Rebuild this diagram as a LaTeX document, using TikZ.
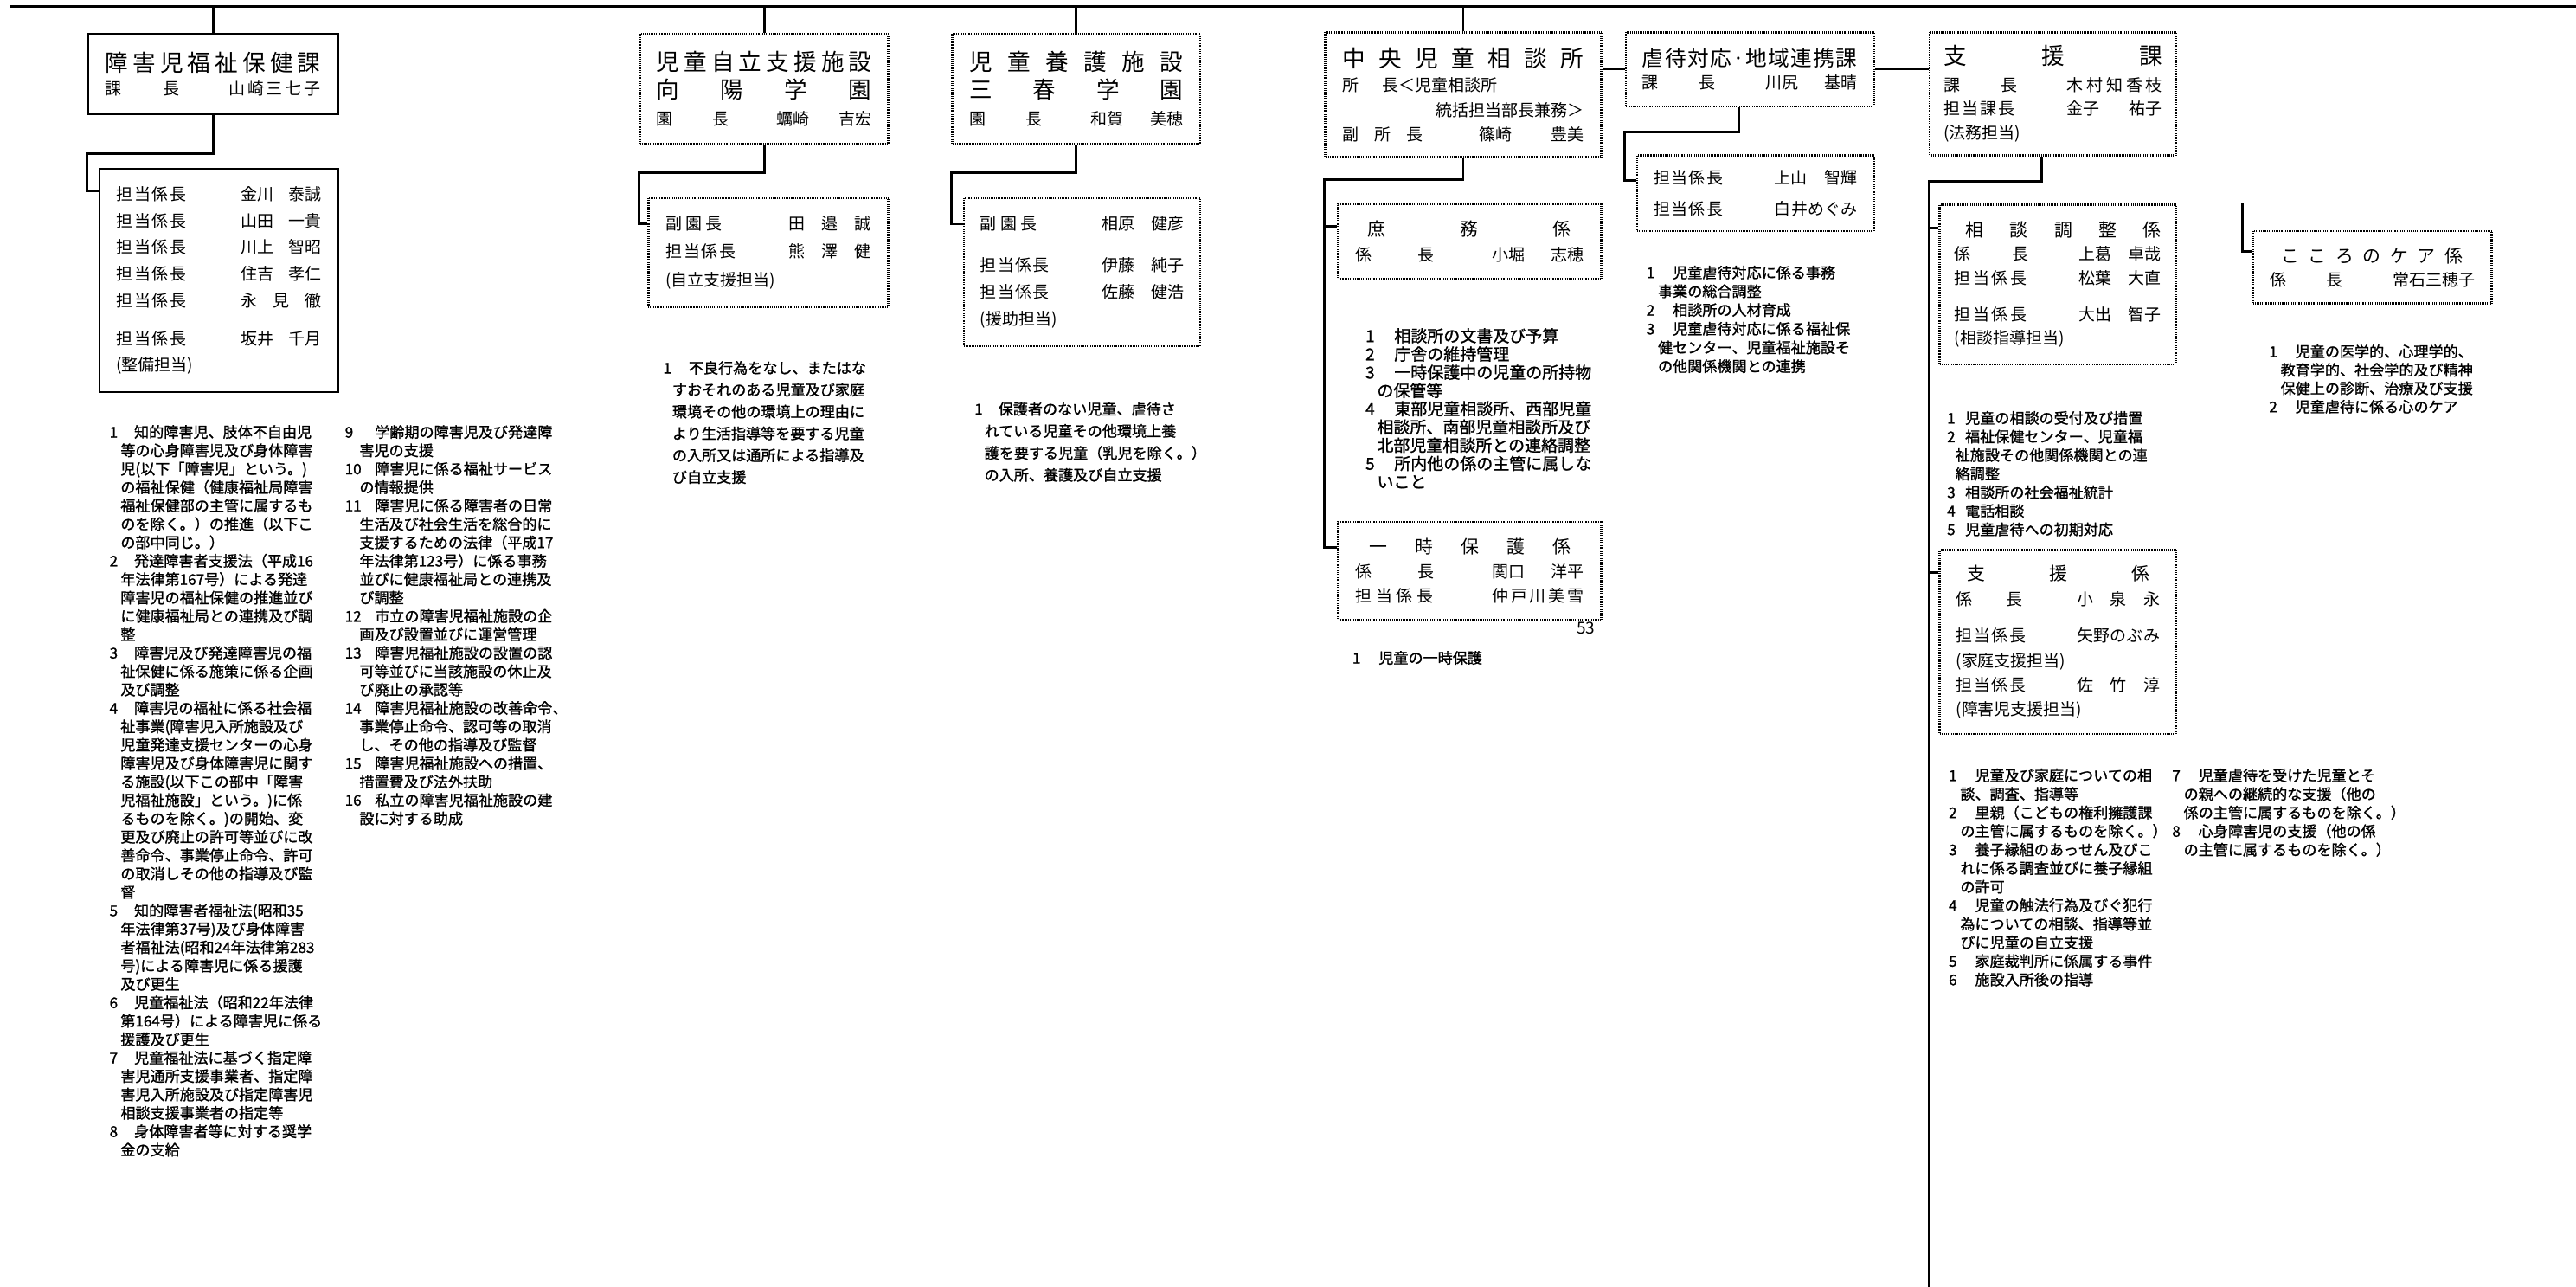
\documentclass[tikz,border=0pt]{standalone}
\usepackage{fontspec}
\setmainfont{Noto Sans CJK JP}
\newfontfamily\dsc{Noto Sans CJK JP}[FakeBold=1.2]

\newlength\nmw
\newlength\ctw
\newcommand{\nm}[1]{\makebox[\nmw][l]{#1}}
\newcommand{\ct}{\hspace*{\ctw}}
\newcommand{\spr}[2]{\makebox[#1][s]{\spaceskip=0pt plus 1fil\relax #2}}
\newcommand{\rw}[4]{\spr{#1}{#2}\hfill\spr{#3}{#4}}
\newcommand{\ttl}{\fontsize{14}{16}\selectfont}
\newcommand{\sttl}{\fontsize{11}{14}\selectfont}

\tikzset{
  bus/.style={line width=1.7pt},
  con/.style={line width=1.5pt},
  kbox/.style={draw, line width=1.3pt, anchor=north west, align=left, inner ysep=0pt},
  dbox/.style={kbox, dash pattern=on .5pt off .5pt},
  lst/.style 2 args={anchor=north west, inner sep=0pt, align=left,
    font=\dsc\fontsize{9}{11.2}\selectfont,
    execute at begin node={\global\nmw=#1\relax\global\ctw=#2\relax}},
}

\begin{document}
\begin{tikzpicture}[x=1pt,y=-1pt]
\useasboundingbox (0,0) rectangle (1568,783);

% top line
\coordinate (busL) at (6,4);
\coordinate (busR) at (1568,4);
\draw[bus] (busL) -- (busR);

% 障害児福祉保健課
\node[kbox, minimum width=152, minimum height=49, inner xsep=10.5, text width=131,
  font=\fontsize{10}{14}\selectfont] (shka) at (53,20) {%
  {\ttl\spr{\linewidth}{障 害 児 福 祉 保 健 課}}\\
  \rw{45pt}{課 長}{56pt}{山 崎 三 七 子}};
\node[kbox, minimum width=145, minimum height=136, inner xsep=10, text width=125,
  font=\fontsize{10}{16.2}\selectfont] (shka2) at (60,102) {%
  \rw{43pt}{担 当 係 長}{49pt}{金川 泰誠}\\
  \rw{43pt}{担 当 係 長}{49pt}{山田 一貴}\\
  \rw{43pt}{担 当 係 長}{49pt}{川上 智昭}\\
  \rw{43pt}{担 当 係 長}{49pt}{住吉 孝仁}\\
  \rw{43pt}{担 当 係 長}{49pt}{永 見 徹}\\[6.8pt]
  \rw{43pt}{担 当 係 長}{49pt}{坂井 千月}\\
  (整備担当)};
\coordinate (ja) at (53,116);
\draw[con] (shka.north) -- (shka.north |- busL);
\draw[con] (shka.south) -- ++(0,23) -| (ja) -- (ja -| shka2.west);

\node[lst={15pt}{6.7pt}] (txa) at (66.5,258.5) {%
  \nm{1}知的障害児、肢体不自由児\\
  \ct 等の心身障害児及び身体障害\\
  \ct 児(以下「障害児」という。)\\
  \ct の福祉保健（健康福祉局障害\\
  \ct 福祉保健部の主管に属するも\\
  \ct のを除く。）の推進（以下こ\\
  \ct の部中同じ。）\\
  \nm{2}発達障害者支援法（平成16\\
  \ct 年法律第167号）による発達\\
  \ct 障害児の福祉保健の推進並び\\
  \ct に健康福祉局との連携及び調\\
  \ct 整\\
  \nm{3}障害児及び発達障害児の福\\
  \ct 祉保健に係る施策に係る企画\\
  \ct 及び調整\\
  \nm{4}障害児の福祉に係る社会福\\
  \ct 祉事業(障害児入所施設及び\\
  \ct 児童発達支援センターの心身\\
  \ct 障害児及び身体障害児に関す\\
  \ct る施設(以下この部中「障害\\
  \ct 児福祉施設」という。)に係\\
  \ct るものを除く。)の開始、変\\
  \ct 更及び廃止の許可等並びに改\\
  \ct 善命令、事業停止命令、許可\\
  \ct の取消しその他の指導及び監\\
  \ct 督\\
  \nm{5}知的障害者福祉法(昭和35\\
  \ct 年法律第37号)及び身体障害\\
  \ct 者福祉法(昭和24年法律第283\\
  \ct 号)による障害児に係る援護\\
  \ct 及び更生\\
  \nm{6}児童福祉法（昭和22年法律\\
  \ct 第164号）による障害児に係る\\
  \ct 援護及び更生\\
  \nm{7}児童福祉法に基づく指定障\\
  \ct 害児通所支援事業者、指定障\\
  \ct 害児入所施設及び指定障害児\\
  \ct 相談支援事業者の指定等\\
  \nm{8}身体障害者等に対する奨学\\
  \ct 金の支給};
\node[lst={18.2pt}{8.8pt}] (txb) at (209.8,258.5) {%
  \nm{9}学齢期の障害児及び発達障\\
  \ct 害児の支援\\
  \nm{10}障害児に係る福祉サービス\\
  \ct の情報提供\\
  \nm{11}障害児に係る障害者の日常\\
  \ct 生活及び社会生活を総合的に\\
  \ct 支援するための法律（平成17\\
  \ct 年法律第123号）に係る事務\\
  \ct 並びに健康福祉局との連携及\\
  \ct び調整\\
  \nm{12}市立の障害児福祉施設の企\\
  \ct 画及び設置並びに運営管理\\
  \nm{13}障害児福祉施設の設置の認\\
  \ct 可等並びに当該施設の休止及\\
  \ct び廃止の承認等\\
  \nm{14}障害児福祉施設の改善命令、\\
  \ct 事業停止命令、認可等の取消\\
  \ct し、その他の指導及び監督\\
  \nm{15}障害児福祉施設への措置、\\
  \ct 措置費及び法外扶助\\
  \nm{16}私立の障害児福祉施設の建\\
  \ct 設に対する助成};

% 児童自立支援施設
\node[dbox, minimum width=151, minimum height=67, inner xsep=10, text width=131,
  font=\fontsize{10}{16.5}\selectfont] (kyoyo) at (389,20) {%
  {\ttl\spr{\linewidth}{児 童 自 立 支 援 施 設}}\\
  {\ttl\spr{\linewidth}{向 陽 学 園}}\\
  \rw{44pt}{園 長}{58pt}{蠣崎 吉宏}};
\node[dbox, minimum width=146, minimum height=66, inner xsep=10.5, text width=125,
  font=\fontsize{10}{17}\selectfont] (kyoyo2) at (394,120) {%
  \rw{34.5pt}{副 園 長}{50pt}{田 邉 誠}\\
  \rw{43pt}{担 当 係 長}{50pt}{熊 澤 健}\\
  (自立支援担当)};
\coordinate (jb) at (389,136);
\draw[con] (kyoyo.north) -- (kyoyo.north |- busL);
\draw[con] (kyoyo.south) -- ++(0,17) -| (jb) -- (jb -| kyoyo2.west);
\node[lst={15.5pt}{5.5pt}, font=\dsc\fontsize{9}{13.3}\selectfont] (txkyoyo) at (403.5,219.5) {%
  \nm{1}不良行為をなし、またはな\\
  \ct すおそれのある児童及び家庭\\
  \ct 環境その他の環境上の理由に\\
  \ct より生活指導等を要する児童\\
  \ct の入所又は通所による指導及\\
  \ct び自立支援};

% 児童養護施設
\node[dbox, minimum width=151, minimum height=67, inner xsep=10.5, text width=130,
  font=\fontsize{10}{16.5}\selectfont] (miharu) at (579,20) {%
  {\ttl\spr{\linewidth}{児 童 養 護 施 設}}\\
  {\ttl\spr{\linewidth}{三 春 学 園}}\\
  \rw{44pt}{園 長}{56pt}{和賀 美穂}};
\node[dbox, minimum width=144, minimum height=90, inner xsep=10, text width=124,
  font=\fontsize{10}{16.5}\selectfont] (miharu2) at (586,120) {%
  \rw{34.5pt}{副 園 長}{50pt}{相原 健彦}\\[8.8pt]
  \rw{42pt}{担 当 係 長}{50pt}{伊藤 純子}\\
  \rw{42pt}{担 当 係 長}{50pt}{佐藤 健浩}\\
  (援助担当)};
\coordinate (jc) at (579,136.4);
\draw[con] (miharu.north) -- (miharu.north |- busL);
\draw[con] (miharu.south) -- ++(0,17) -| (jc) -- (jc -| miharu2.west);
\node[lst={14.5pt}{6pt}, font=\dsc\fontsize{9}{13.4}\selectfont] (txmiharu) at (593,244.5) {%
  \nm{1}保護者のない児童、虐待さ\\
  \ct れている児童その他環境上養\\
  \ct 護を要する児童（乳児を除く。）\\
  \ct の入所、養護及び自立支援};

% 中央児童相談所
\node[dbox, minimum width=168, minimum height=76, inner xsep=10.5, text width=147,
  font=\fontsize{10}{15}\selectfont] (chuo) at (806,19) {%
  {\ttl\spr{\linewidth}{中 央 児 童 相 談 所}}\\
  所\hspace{14.5pt}長＜児童相談所\\
  \hspace*{\fill}統括担当部長兼務＞\\
  \rw{49pt}{副 所 長}{63.7pt}{篠崎 豊美}};
\node[dbox, minimum width=160, minimum height=45.5, inner xsep=10.6, text width=138.8,
  font=\fontsize{10}{15}\selectfont] (shomu) at (814,123.5) {%
  \hspace*{7pt}{\sttl\spr{124pt}{庶 務 係}}\\
  \rw{47.5pt}{係 長}{55.7pt}{小堀 志穂}};
\node[dbox, minimum width=160, minimum height=59.5, inner xsep=10.6, text width=138.8,
  font=\fontsize{10}{15}\selectfont] (ichiji) at (814,317) {%
  \hspace*{8pt}{\sttl\spr{123pt}{一 時 保 護 係}}\\
  \rw{47.5pt}{係 長}{55.7pt}{関口 洋平}\\
  \rw{47pt}{担 当 係 長}{55.7pt}{仲 戸 川 美 雪}};
\coordinate (jd1) at (806,137.7);
\coordinate (jd2) at (806,333);
\draw[con] (chuo.north) -- (chuo.north |- busL);
\draw[con] (chuo.south) -- ++(0,13) -| (jd2) -- (jd2 -| ichiji.west);
\draw[con] (jd1) -- (jd1 -| shomu.west);
\node[lst={17.5pt}{7pt}, font=\dsc\fontsize{10}{11.1}\selectfont] (txshomu) at (831,199.5) {%
  \nm{1}相談所の文書及び予算\\
  \nm{2}庁舎の維持管理\\
  \nm{3}一時保護中の児童の所持物\\
  \ct の保管等\\
  \nm{4}東部児童相談所、西部児童\\
  \ct 相談所、南部児童相談所及び\\
  \ct 北部児童相談所との連絡調整\\
  \nm{5}所内他の係の主管に属しな\\
  \ct いこと};
\node[anchor=east, inner sep=0pt, font=\fontsize{10}{12}\selectfont] (pg) at (971,382) {53};
\node[lst={16pt}{7pt}, font=\dsc\fontsize{9}{11.2}\selectfont] (txichiji) at (823,396) {%
  \nm{1}児童の一時保護};

% 虐待対応・地域連携課
\node[dbox, minimum width=151, minimum height=45, inner xsep=10, text width=131,
  font=\fontsize{10}{13.5}\selectfont] (gyaku) at (989,19) {%
  {\fontsize{13}{15}\selectfont\spr{\linewidth}{虐 待 対 応 · 地 域 連 携 課}}\\
  \rw{44.5pt}{課 長}{56pt}{川尻 基晴}};
\node[dbox, minimum width=144, minimum height=46, inner xsep=10, text width=124,
  font=\fontsize{10}{18.5}\selectfont] (gyaku2) at (996,94) {%
  \rw{42pt}{担 当 係 長}{50.5pt}{上山 智輝}\\
  \rw{42pt}{担 当 係 長}{50.5pt}{白 井 め ぐ み}};
\coordinate (je) at (989,110);
\draw[con] (gyaku.west) -- (gyaku.west -| chuo.east);
\draw[con] ([xshift=-6.5pt]gyaku.south) -- ++(0,15) -| (je) -- (je -| gyaku2.west);
\node[lst={16pt}{7pt}, font=\dsc\fontsize{9}{11.4}\selectfont] (txgyaku) at (1002,161.5) {%
  \nm{1}児童虐待対応に係る事務\\
  \ct 事業の総合調整\\
  \nm{2}相談所の人材育成\\
  \nm{3}児童虐待対応に係る福祉保\\
  \ct 健センター、児童福祉施設そ\\
  \ct の他関係機関との連携};

% 支援課
\node[dbox, minimum width=150, minimum height=75, inner xsep=8.5, text width=133,
  font=\fontsize{10}{14.7}\selectfont] (shien) at (1174,19) {%
  {\ttl\spr{\linewidth}{支 援 課}}\\[1.3pt]
  \rw{45pt}{課 長}{58pt}{木 村 知 香 枝}\\
  \rw{43.4pt}{担 当 課 長}{58pt}{金子 祐子}\\
  (法務担当)};
\draw[con] (gyaku.east) -- (gyaku.east -| shien.west);
\node[dbox, minimum width=144, minimum height=97, inner xsep=9, text width=126,
  font=\fontsize{10}{14.3}\selectfont] (sodan) at (1180,124) {%
  \hspace*{6.8pt}{\sttl\spr{119pt}{相 談 調 整 係}}\\
  \rw{45pt}{係 長}{50pt}{上葛 卓哉}\\
  \rw{44pt}{担 当 係 長}{50pt}{松葉 大直}\\[8pt]
  \rw{44pt}{担 当 係 長}{50pt}{大出 智子}\\
  (相談指導担当)};
\node[dbox, minimum width=144, minimum height=112, inner xsep=10, text width=124,
  font=\fontsize{10}{14.8}\selectfont] (shienk) at (1180,334) {%
  \hspace*{7pt}{\sttl\spr{111pt}{支 援 係}}\\
  \rw{40.5pt}{係 長}{50.4pt}{小 泉 永}\\[7.8pt]
  \rw{42.7pt}{担 当 係 長}{50.4pt}{矢 野 の ぶ み}\\
  (家庭支援担当)\\
  \rw{42.7pt}{担 当 係 長}{50.4pt}{佐 竹 淳}\\
  (障害児支援担当)};
\coordinate (jf1) at (1174,138.7);
\coordinate (jf2) at (1174,348.5);
\coordinate (fend) at (1174,783);
\draw[con] ([xshift=-7pt]shien.south) -- ++(0,15) -| (fend);
\draw[con] (jf1) -- (jf1 -| sodan.west);
\draw[con] (jf2) -- (jf2 -| shienk.west);
\node[lst={11pt}{5pt}, font=\dsc\fontsize{9}{11.3}\selectfont] (txsodan) at (1185,250) {%
  \nm{1}児童の相談の受付及び措置\\
  \nm{2}福祉保健センター、児童福\\
  \ct 祉施設その他関係機関との連\\
  \ct 絡調整\\
  \nm{3}相談所の社会福祉統計\\
  \nm{4}電話相談\\
  \nm{5}児童虐待への初期対応};
\node[lst={16pt}{7pt}, font=\dsc\fontsize{9}{11.3}\selectfont] (txshien) at (1186,467.5) {%
  \nm{1}児童及び家庭についての相\\
  \ct 談、調査、指導等\\
  \nm{2}里親（こどもの権利擁護課\\
  \ct の主管に属するものを除く。）\\
  \nm{3}養子縁組のあっせん及びこ\\
  \ct れに係る調査並びに養子縁組\\
  \ct の許可\\
  \nm{4}児童の触法行為及びぐ犯行\\
  \ct 為についての相談、指導等並\\
  \ct びに児童の自立支援\\
  \nm{5}家庭裁判所に係属する事件\\
  \nm{6}施設入所後の指導};
\node[lst={16pt}{7pt}, font=\dsc\fontsize{9}{11.3}\selectfont] (txshien2) at (1322,467.5) {%
  \nm{7}児童虐待を受けた児童とそ\\
  \ct の親への継続的な支援（他の\\
  \ct 係の主管に属するものを除く。）\\
  \nm{8}心身障害児の支援（他の係\\
  \ct の主管に属するものを除く。）};

% こころのケア係
\node[dbox, minimum width=145, minimum height=44, inner xsep=10, text width=125,
  font=\fontsize{10}{14.3}\selectfont] (kokoro) at (1371,140) {%
  \hspace*{7pt}{\sttl\spr{110.5pt}{こ こ ろ の ケ ア 係}}\\
  \rw{44.5pt}{係 長}{50pt}{常 石 三 穂 子}};
\coordinate (gtop) at (1365,124);
\coordinate (jg) at (1365,153);
\draw[con] (gtop) -- (jg) -- (jg -| kokoro.west);
\node[lst={16pt}{7pt}, font=\dsc\fontsize{9}{11.2}\selectfont] (txkokoro) at (1381,209.5) {%
  \nm{1}児童の医学的、心理学的、\\
  \ct 教育学的、社会学的及び精神\\
  \ct 保健上の診断、治療及び支援\\
  \nm{2}児童虐待に係る心のケア};
\end{tikzpicture}
\end{document}
